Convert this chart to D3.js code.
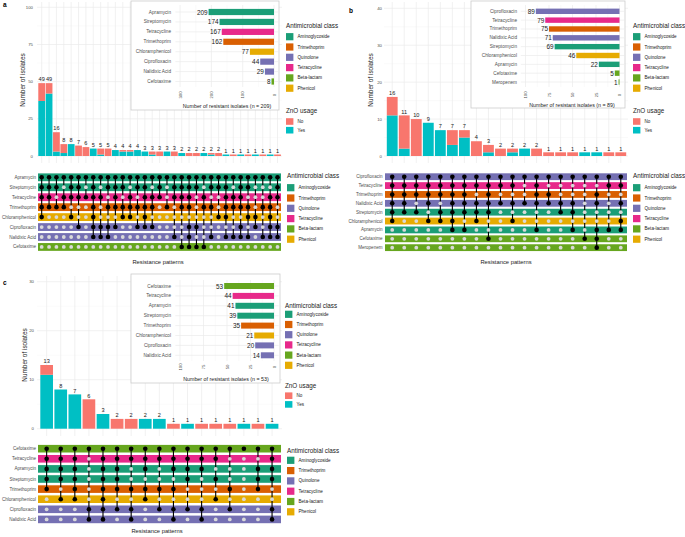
<!DOCTYPE html>
<html><head><meta charset="utf-8">
<script src="https://cdn.jsdelivr.net/npm/d3@7"></script>
<style>body{margin:0;background:#fff;} svg{font-family:"Liberation Sans",Arial,sans-serif;}</style>
</head><body><svg id="c" width="685" height="537"></svg>
<script>
// ---------- DATA ----------
const classNames = ["Aminoglycoside","Trimethoprim","Quinolone","Tetracycline","Beta-lactam","Phenicol"];
const classColors = ["#1B9E77","#D95F02","#7570B3","#E7298A","#66A61E","#E6AB02"];
const drugNames = ["Apramycin","Streptomycin","Tetracycline","Trimethoprim","Chloramphenicol","Ciprofloxacin","Nalidixic Acid","Cefotaxime","Meropenem"];
const drugClasses = ["Aminoglycoside","Aminoglycoside","Tetracycline","Trimethoprim","Phenicol","Quinolone","Quinolone","Beta-lactam","Beta-lactam"];
const znoLevels = ["No","Yes"];
const znoColors = ["#F8766D","#00BFC4"];

// Panel a
const setsA = ["Apramycin","Streptomycin","Tetracycline","Trimethoprim","Chloramphenicol","Ciprofloxacin","Nalidixic Acid","Cefotaxime"];
const setSizesA = [209,174,167,162,77,44,29,8];
const nA = 209;
const countsA = [49,49,16,8,8,7,6,5,5,5,4,4,4,4,3,3,3,3,3,2,2,2,2,2,2,1,1,1,1,1,1,1,1];
const yesA =    [37,42,3,2,8,0,0,5,1,0,4,3,3,4,3,1,0,3,0,2,0,0,2,1,0,1,0,1,0,1,0,1,0];
const patternsA = ["11111000","11110000","11010000","10110000","11101000","11100100","10100000","11111110",
  "10100110","11010110","11110100","11011000","10111000","11010100","11111100","10110100","11100000",
  "10010000","11100010","11110001","11110111","11000101","10110001","11010010","11001000","11111010",
  "10110010","11110110","11011010","10001100","10010010","10111110","11100110"];

// Panel b
const setsB = ["Ciprofloxacin","Tetracycline","Trimethoprim","Nalidixic Acid","Streptomycin","Chloramphenicol","Apramycin","Cefotaxime","Meropenem"];
const setSizesB = [89,79,75,71,69,46,22,5,1];
const nB = 89;
const countsB = [16,11,10,9,7,7,7,4,3,2,2,2,2,1,1,1,1,1,1,1];
const yesB =    [11,2,0,9,7,3,5,0,1,0,1,2,0,0,0,0,1,1,0,0];
const patternsB = ["111111000","111110000","111010000","111101000","111011000","111111100","111110100",
  "110111000","111110010","110100000","110101000","100100000","111100100","101100000","100110000",
  "100110100","100000010","101100111","110000100","110101100"];

// Panel c
const setsC = ["Cefotaxime","Tetracycline","Apramycin","Streptomycin","Trimethoprim","Chloramphenicol","Ciprofloxacin","Nalidixic Acid"];
const setSizesC = [53,44,41,39,35,21,20,14];
const nC = 53;
const countsC = [13,8,7,6,3,2,2,2,2,1,1,1,1,1,1,1,1];
const yesC =    [11,8,7,0,3,0,0,2,2,0,1,0,0,0,1,0,1];
const patternsC = ["11111000","11110100","11111100","10000011","11111111","11111010","11001011","11101100",
  "11001010","11101011","11110010","11100011","11010100","10001010","10000000","10111000","11110011"];

// ---------- LAYOUT ----------
const LA = {
  label:"a", labelPos:[3,7],
  colX:[38,281.2], pad:0.08, y0:156, yTop:7.3, yMax:100, yTicks:[0,25,50,75,100],
  plotTop:2, plotBottom:163, gridX:[37,282], tickX:33, yTitle:[22,80],
  inset:{box:[131,1,279,110], zeroX:274, maxV:300, ppu:0.313, ticks:[0,100,200,300], row0:12, step:9.93, barH:6.2, labelX:171, tickY:95, title:[227,105.5], gridTop:5, gridBottom:87},
  leg1:{x:286, titleY:25, y0:36.7, step:10.3, znoTitleY:110.7, znoY0:121.5, znoStep:8.7},
  matrix:{row0:177.3, step:9.95, bandH:7.8, bandX:[38,281], labelX:36, rB:2.3, rG:1.9},
  leg2:{x:287, titleY:175.3, y0:187.7, step:10.3},
  xTitle:[158,262]
};
const LB = {
  label:"b", labelPos:[349,13],
  colX:[386.2,626.8], pad:0.1, y0:156, yTop:8.3, yMax:40, yTicks:[0,10,20,30,40],
  plotTop:2, plotBottom:163, gridX:[384,628], tickX:382, yTitle:[370,80],
  inset:{box:[471,1,625,108], zeroX:619.5, maxV:100, ppu:0.94, ticks:[0,25,50,75,100], row0:11.3, step:8.84, barH:5.4, labelX:517, tickY:95, title:[572,105], gridTop:5, gridBottom:87},
  leg1:{x:633, titleY:25, y0:36.7, step:10.3, znoTitleY:110.7, znoY0:121.5, znoStep:8.7},
  matrix:{row0:176.7, step:8.87, bandH:6.8, bandX:[385,627], labelX:382.5, rB:2.3, rG:1.9},
  leg2:{x:633, titleY:175.3, y0:187.7, step:10.3},
  xTitle:[506,262]
};
const LC = {
  label:"c", labelPos:[3,285],
  colX:[39.6,279.1], pad:0.1, y0:428.7, yTop:281.7, yMax:30, yTicks:[0,10,20,30],
  plotTop:276, plotBottom:436, gridX:[37,282], tickX:34, yTitle:[24,355],
  inset:{box:[131,274,280,383], zeroX:274, maxV:100, ppu:0.94, ticks:[0,25,50,75,100], row0:286, step:9.9, barH:6, labelX:171, tickY:367, title:[226,378.5], gridTop:280, gridBottom:361},
  leg1:{x:285, titleY:305, y0:314.3, step:10.2, znoTitleY:385.3, znoY0:395.7, znoStep:8.7},
  matrix:{row0:448.7, step:10.1, bandH:7.6, bandX:[38,281], labelX:36, rB:2.3, rG:1.9},
  leg2:{x:287, titleY:450, y0:460.3, step:10.3},
  xTitle:[157,531]
};

// ---------- DRAW ----------
const svg = d3.select("#c");
const classColor = d3.scaleOrdinal().domain(classNames).range(classColors);
const drugToClass = new Map(drugNames.map((d,i)=>[d, drugClasses[i]]));
const znoColor = d3.scaleOrdinal().domain(znoLevels).range(znoColors);
const axisGrey = "#4D4D4D";

function classLegend(g, x, titleY, y0, step) {
  g.append("text").attr("x",x).attr("y",titleY).attr("dominant-baseline","central")
    .attr("font-size",6.3).attr("fill","#1a1a1a").text("Antimicrobial class");
  const it = g.selectAll(null).data(classNames).join("g")
    .attr("transform",(d,i)=>`translate(${x},${y0+i*step})`);
  it.append("rect").attr("x",0).attr("y",-3.6).attr("width",7.4).attr("height",7.2).attr("fill",d=>classColor(d));
  it.append("text").attr("x",11.5).attr("y",0).attr("dominant-baseline","central")
    .attr("font-size",4.6).attr("fill","#1a1a1a").text(d=>d);
}

function drawPanel(L, D) {
  const g = svg.append("g");
  const n = D.counts.length;
  const x = d3.scaleBand().domain(d3.range(n)).range(L.colX).paddingInner(L.pad).paddingOuter(L.pad/2);
  const cx = i => x(i) + x.bandwidth()/2;
  const y = d3.scaleLinear().domain([0, L.yMax]).range([L.y0, L.yTop]);
  const minor = L.yTicks.slice(0,-1).map((t,i)=>(t+L.yTicks[i+1])/2);

  // grid
  g.selectAll(null).data(minor).join("line")
    .attr("x1",L.gridX[0]).attr("x2",L.gridX[1]).attr("y1",d=>y(d)).attr("y2",d=>y(d))
    .attr("stroke","#f4f4f4").attr("stroke-width",0.5);
  g.selectAll(null).data(L.yTicks).join("line")
    .attr("x1",L.gridX[0]).attr("x2",L.gridX[1]).attr("y1",d=>y(d)).attr("y2",d=>y(d))
    .attr("stroke","#ebebeb").attr("stroke-width",0.7);
  g.selectAll(null).data(d3.range(n)).join("line")
    .attr("x1",cx).attr("x2",cx).attr("y1",L.plotTop).attr("y2",L.plotBottom)
    .attr("stroke","#ebebeb").attr("stroke-width",0.7);

  // y ticks
  g.selectAll(null).data(L.yTicks).join("text")
    .attr("x",L.tickX).attr("y",d=>y(d)).attr("text-anchor","end").attr("dominant-baseline","central")
    .attr("font-size",4.3).attr("fill",axisGrey).text(d=>d);
  g.append("text").attr("transform",`translate(${L.yTitle[0]},${L.yTitle[1]}) rotate(-90)`)
    .attr("text-anchor","middle").attr("dominant-baseline","central")
    .attr("font-size",6.4).attr("fill","#1a1a1a").text("Number of isolates");

  // stacked bars
  const rows = D.counts.map((c,i)=>({i, Yes:D.yes[i], No:c-D.yes[i]}));
  const series = d3.stack().keys(["Yes","No"])(rows);
  g.selectAll(null).data(series).join("g").attr("fill",s=>znoColor(s.key))
    .selectAll("rect").data(s=>s).join("rect")
    .attr("x",d=>x(d.data.i)).attr("width",x.bandwidth())
    .attr("y",d=>y(d[1])).attr("height",d=>Math.max(0,y(d[0])-y(d[1])));
  g.selectAll(null).data(rows).join("text")
    .attr("x",d=>cx(d.i)).attr("y",d=>y(d.Yes+d.No)-1.8).attr("text-anchor","middle")
    .attr("font-size",5.6).attr("fill","#1a1a1a").text(d=>d.Yes+d.No);

  // inset
  const I = L.inset;
  g.append("rect").attr("x",I.box[0]).attr("y",I.box[1]).attr("width",I.box[2]-I.box[0]).attr("height",I.box[3]-I.box[1])
    .attr("fill","#fff").attr("stroke","#cccccc").attr("stroke-width",0.8);
  const xi = d3.scaleLinear().domain([0,I.maxV]).range([I.zeroX, I.zeroX - I.maxV*I.ppu]);
  const yi = d3.scalePoint().domain(D.sets).range([I.row0, I.row0+(D.sets.length-1)*I.step]);
  const px0 = xi(I.maxV*1.05), px1 = xi(-I.maxV*0.05);
  const iMinor = I.ticks.slice(0,-1).map((t,i)=>(t+I.ticks[i+1])/2);
  g.selectAll(null).data(iMinor).join("line").attr("x1",d=>xi(d)).attr("x2",d=>xi(d))
    .attr("y1",I.gridTop).attr("y2",I.gridBottom).attr("stroke","#f4f4f4").attr("stroke-width",0.5);
  g.selectAll(null).data(I.ticks).join("line").attr("x1",d=>xi(d)).attr("x2",d=>xi(d))
    .attr("y1",I.gridTop).attr("y2",I.gridBottom).attr("stroke","#ebebeb").attr("stroke-width",0.7);
  g.selectAll(null).data(D.sets).join("line").attr("x1",px0).attr("x2",px1)
    .attr("y1",d=>yi(d)).attr("y2",d=>yi(d)).attr("stroke","#ebebeb").attr("stroke-width",0.7);
  g.selectAll(null).data(D.sets).join("rect")
    .attr("x",(d,i)=>xi(D.sizes[i])).attr("width",(d,i)=>xi(0)-xi(D.sizes[i]))
    .attr("y",d=>yi(d)-I.barH/2).attr("height",I.barH)
    .attr("fill",d=>classColor(drugToClass.get(d)));
  g.selectAll(null).data(D.sets).join("text")
    .attr("x",(d,i)=>xi(D.sizes[i])-1).attr("y",d=>yi(d)).attr("text-anchor","end").attr("dominant-baseline","central")
    .attr("font-size",6.4).attr("fill","#1a1a1a").text((d,i)=>D.sizes[i]);
  g.selectAll(null).data(D.sets).join("text")
    .attr("x",I.labelX).attr("y",d=>yi(d)).attr("text-anchor","end").attr("dominant-baseline","central")
    .attr("font-size",4.7).attr("fill",axisGrey).text(d=>d);
  g.selectAll(null).data(I.ticks).join("text")
    .attr("transform",d=>`translate(${xi(d)},${I.tickY}) rotate(-90)`)
    .attr("text-anchor","middle").attr("dominant-baseline","central")
    .attr("font-size",4.2).attr("fill",axisGrey).text(d=>d);
  g.append("text").attr("x",I.title[0]).attr("y",I.title[1]).attr("text-anchor","middle").attr("dominant-baseline","central")
    .attr("font-size",5.3).attr("fill","#1a1a1a").text(`Number of resistant isolates (n = ${D.total})`);

  // legends
  const l1 = L.leg1;
  classLegend(g, l1.x, l1.titleY, l1.y0, l1.step);
  g.append("text").attr("x",l1.x).attr("y",l1.znoTitleY).attr("dominant-baseline","central")
    .attr("font-size",6.3).attr("fill","#1a1a1a").text("ZnO usage");
  const zi = g.selectAll(null).data(znoLevels).join("g")
    .attr("transform",(d,i)=>`translate(${l1.x},${l1.znoY0+i*l1.znoStep})`);
  zi.append("rect").attr("x",0).attr("y",-3.3).attr("width",7.4).attr("height",6.6).attr("fill",d=>znoColor(d));
  zi.append("text").attr("x",11.5).attr("y",0).attr("dominant-baseline","central")
    .attr("font-size",4.6).attr("fill","#1a1a1a").text(d=>d);

  // matrix
  const M = L.matrix;
  const ym = d3.scalePoint().domain(D.sets).range([M.row0, M.row0+(D.sets.length-1)*M.step]);
  g.selectAll(null).data(D.sets).join("rect")
    .attr("x",M.bandX[0]).attr("width",M.bandX[1]-M.bandX[0])
    .attr("y",d=>ym(d)-M.bandH/2).attr("height",M.bandH)
    .attr("fill",d=>classColor(drugToClass.get(d)));
  g.selectAll(null).data(D.sets).join("text")
    .attr("x",M.labelX).attr("y",d=>ym(d)).attr("text-anchor","end").attr("dominant-baseline","central")
    .attr("font-size",4.55).attr("fill",axisGrey).text(d=>d);
  const segs = D.patterns.map((p,i)=>{
    const on = D.sets.filter((s,j)=>p[j]==="1").map(s=>ym(s));
    return {i, y1:d3.min(on), y2:d3.max(on)};
  });
  g.selectAll(null).data(segs).join("line")
    .attr("x1",d=>cx(d.i)).attr("x2",d=>cx(d.i)).attr("y1",d=>d.y1).attr("y2",d=>d.y2)
    .attr("stroke","#000").attr("stroke-width",1.1);
  const dots = [];
  D.patterns.forEach((p,i)=>D.sets.forEach((s,j)=>dots.push({i, s, on:p[j]==="1"})));
  g.selectAll(null).data(dots).join("circle")
    .attr("cx",d=>cx(d.i)).attr("cy",d=>ym(d.s)).attr("r",d=>d.on?M.rB:M.rG)
    .attr("fill",d=>d.on?"#000":"#d9d9d9");
  const l2 = L.leg2;
  classLegend(g, l2.x, l2.titleY, l2.y0, l2.step);
  g.append("text").attr("x",L.xTitle[0]).attr("y",L.xTitle[1]).attr("text-anchor","middle").attr("dominant-baseline","central")
    .attr("font-size",5.8).attr("fill","#1a1a1a").text("Resistance patterns");

  // panel letter
  g.append("text").attr("x",L.labelPos[0]).attr("y",L.labelPos[1]).attr("font-size",6.5)
    .attr("font-weight","bold").attr("fill","#000").text(L.label);
}

drawPanel(LA, {sets:setsA, sizes:setSizesA, total:nA, counts:countsA, yes:yesA, patterns:patternsA});
drawPanel(LB, {sets:setsB, sizes:setSizesB, total:nB, counts:countsB, yes:yesB, patterns:patternsB});
drawPanel(LC, {sets:setsC, sizes:setSizesC, total:nC, counts:countsC, yes:yesC, patterns:patternsC});
</script></body></html>
